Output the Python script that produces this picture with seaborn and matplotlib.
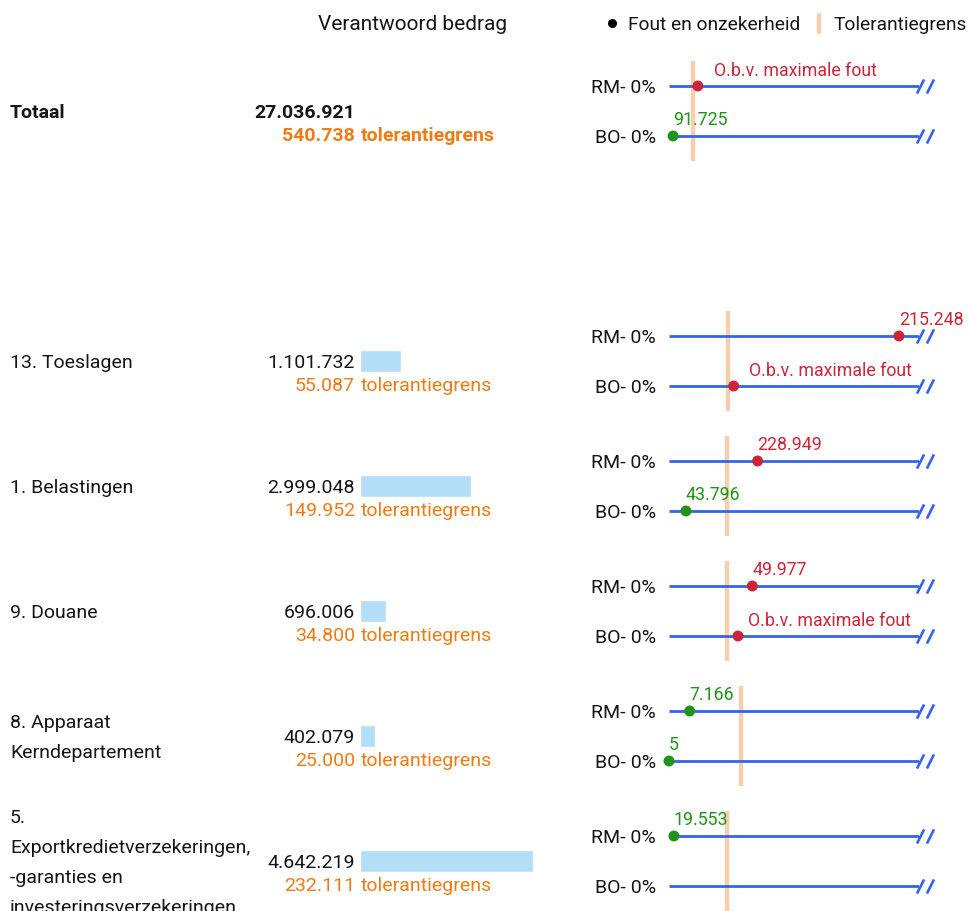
import numpy as np
import pandas as pd
import matplotlib
matplotlib.use("Agg")
import matplotlib.pyplot as plt
from matplotlib.path import Path
from matplotlib.lines import Line2D
from matplotlib.transforms import offset_copy
import seaborn as sns

# ---------------- data ----------------
categories = ["Totaal", "13. Toeslagen", "1. Belastingen", "9. Douane",
              "8. Apparaat Kerndepartement",
              "5. Exportkredietverzekeringen, -garanties en investeringsverzekeringen"]
category_labels = ["Totaal", "13. Toeslagen", "1. Belastingen", "9. Douane",
                   "8. Apparaat\nKerndepartement",
                   "5.\nExportkredietverzekeringen,\n-garanties en\ninvesteringsverzekeringen"]
bedrag = [27036921, 1101732, 2999048, 696006, 402079, 4642219]
tolerantie = [540738, 55087, 149952, 34800, 25000, 232111]
rm_fout = [650000, 215248, 228949, 49977, 7166, 19553]
rm_maxfout = [True, False, False, False, False, False]
bo_fout = [91725, 60500, 43796, 41400, 5, np.nan]
bo_maxfout = [False, True, False, True, False, False]
x_limits = [5630000, 234000, 646000, 150000, 86800, 1000000]
bar_limit = 5380000
series = ["RM- 0%", "BO- 0%"]
header = "Verantwoord bedrag"
legend_labels = ["Fout en onzekerheid", "Tolerantiegrens"]
maxfout_text = "O.b.v. maximale fout"

# ---------------- style ----------------
W, H = 969, 912
BLUE = "#3464ee"
PEACH = "#f8cfae"
RED = "#cc2538"
GREEN = "#1f9418"
ORANGE = "#ef7b14"
BARBLUE = "#b2dff7"
TXT = "#151515"

sns.set_theme(style="white")
plt.rcParams["font.family"] = ["Roboto", "DejaVu Sans"]


def fx(x):
    return x / W


def fy(y):
    return 1 - y / H


def fmt(v):
    return f"{int(round(v)):,}".replace(",", ".")


fig = plt.figure(figsize=(W / 100, H / 100), dpi=100)
fig.patch.set_facecolor("white")

FS = 14
FS_ANN = 12.8

# header + legend
fig.text(fx(413), fy(25), header, ha="center", va="center", fontsize=15, color=TXT)
fig.add_artist(Line2D([fx(612)], [fy(24)], marker="o", markersize=5.5,
                      color="black", transform=fig.transFigure))
fig.text(fx(628), fy(25), legend_labels[0], ha="left", va="center", fontsize=13.8, color=TXT)
fig.add_artist(Line2D([fx(819), fx(819)], [fy(16), fy(33)], lw=3.2,
                      color=PEACH, transform=fig.transFigure))
fig.text(fx(833), fy(25), legend_labels[1], ha="left", va="center", fontsize=13.8, color=TXT)

# slash break marker
slash = Path([(-1.2, -1), (-0.2, 1), (0.2, -1), (1.2, 1)],
             [Path.MOVETO, Path.LINETO, Path.MOVETO, Path.LINETO])

rm_rows = [87] + [337 + 125 * i for i in range(5)]

for i, cat in enumerate(categories):
    ry = rm_rows[i]
    center = ry + 25
    bold = "bold" if i == 0 else "normal"

    # left column texts
    fig.text(fx(10), fy(center + 1), category_labels[i], ha="left", va="center",
             fontsize=FS, color=TXT, fontweight=bold, linespacing=1.84)
    fig.text(fx(355), fy(center + 1), fmt(bedrag[i]), ha="right", va="center",
             fontsize=FS, color=TXT, fontweight=bold)
    fig.text(fx(355), fy(center + 24), fmt(tolerantie[i]), ha="right", va="center",
             fontsize=FS, color=ORANGE, fontweight=bold)
    fig.text(fx(361), fy(center + 24), "tolerantiegrens", ha="left", va="center",
             fontsize=FS, color=ORANGE, fontweight=bold)

    # error panel
    ax = fig.add_axes([fx(669), fy(ry + 75), 250 / W, 100 / H])
    ax.set_xlim(0, x_limits[i])
    ax.set_ylim(1.5, -0.5)
    ax.axis("off")
    ax.vlines(tolerantie[i], -0.5, 1.5, color=PEACH, lw=3.2, zorder=1)
    ax.hlines([0, 1], 0, x_limits[i], color=BLUE, lw=2.0, zorder=2)
    brk = offset_copy(ax.transData, fig=fig, x=6, y=0, units="dots")
    ax.plot([x_limits[i]] * 2, [0, 1], ls="none", marker=slash, markersize=12.2,
            markeredgewidth=1.9, color=BLUE, transform=brk, clip_on=False, zorder=3)

    vals = [rm_fout[i], bo_fout[i]]
    maxf = [rm_maxfout[i], bo_maxfout[i]]
    df = pd.DataFrame({"x": vals, "y": [0, 1],
                       "status": ["boven" if v > tolerantie[i] else "onder" for v in vals]})
    df = df.dropna()
    sns.scatterplot(data=df, x="x", y="y", hue="status",
                    palette={"boven": RED, "onder": GREEN}, s=62, edgecolor="none",
                    legend=False, ax=ax, zorder=4, clip_on=False)
    ax.set_xlim(0, x_limits[i])
    ax.set_ylim(1.5, -0.5)
    ax.set_xlabel("")
    ax.set_ylabel("")

    for k, (v, mf) in enumerate(zip(vals, maxf)):
        ax.annotate(series[k], (0, k), xytext=(-13, -1), textcoords="offset pixels",
                    ha="right", va="center", fontsize=FS, color=TXT, annotation_clip=False)
        if np.isnan(v):
            continue
        col = RED if v > tolerantie[i] else GREEN
        if mf:
            ax.annotate(maxfout_text, (tolerantie[i], k), xytext=(21, 16),
                        textcoords="offset pixels", ha="left", va="center",
                        fontsize=FS_ANN, color=col, annotation_clip=False)
        else:
            ax.annotate(fmt(v), (v, k), xytext=(0, 17), textcoords="offset pixels",
                        ha="left", va="center", fontsize=FS_ANN, color=col,
                        annotation_clip=False)

# bars (category rows only)
bar_ax = fig.add_axes([fx(360), fy(924.5), 200 / W, 625 / H])
bdf = pd.DataFrame({"cat": categories[1:], "bedrag": bedrag[1:]})
sns.barplot(data=bdf, x="bedrag", y="cat", order=categories[1:], orient="h",
            color=BARBLUE, saturation=1, width=22 / 125, ax=bar_ax)
bar_ax.set_xlim(0, bar_limit)
bar_ax.set_ylim(4.5, -0.5)
bar_ax.axis("off")

fig.savefig("out.png", dpi=100, facecolor="white")
